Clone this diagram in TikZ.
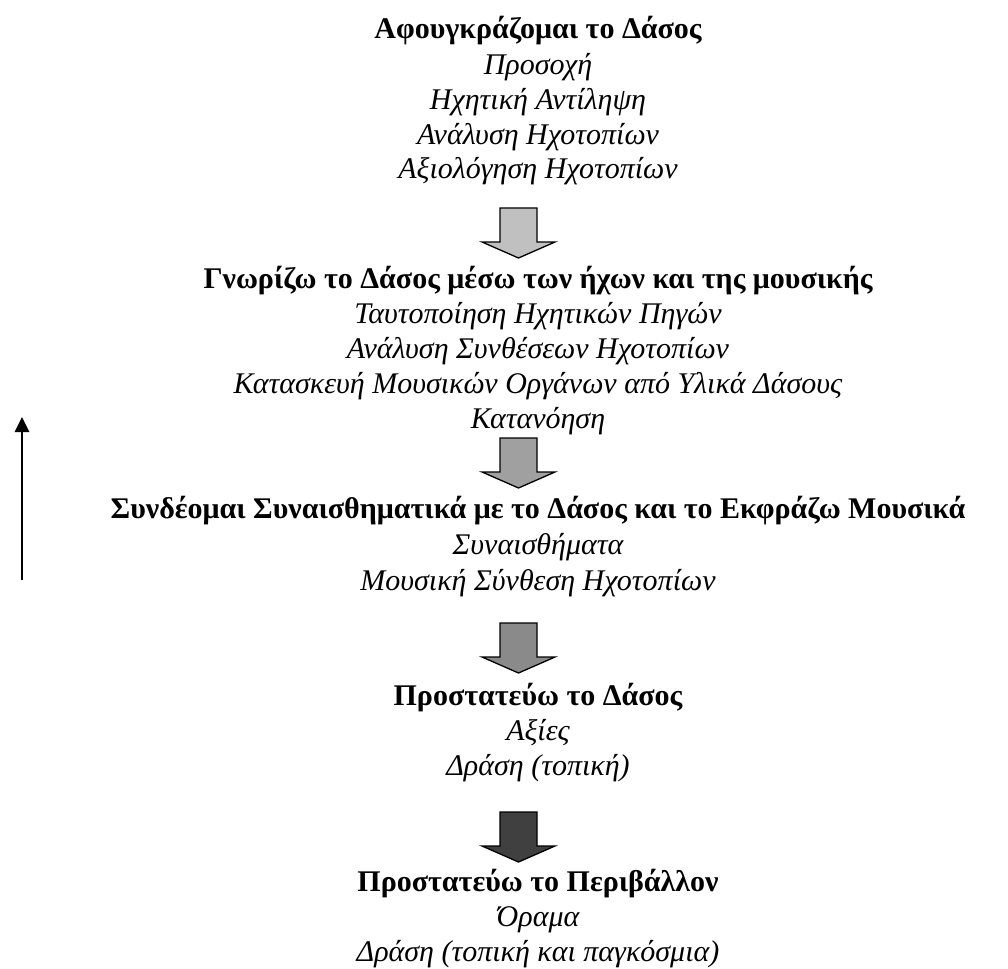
\documentclass[tikz,border=0pt]{standalone}
\usepackage{fontspec}
\setmainfont{Liberation Serif}
\usetikzlibrary{arrows.meta}
\tikzset{
  ttl/.style={anchor=base, inner sep=0pt, font=\fontsize{30}{34}\selectfont\bfseries},
  itm/.style={anchor=base, inner sep=0pt, font=\fontsize{30}{34}\selectfont\itshape},
  barrow/.style={draw=black, line width=1.3pt, line join=miter},
  uparrow/.style={line width=2.6pt, -{Triangle[width=14pt,length=15pt]}}
}
\definecolor{aone}{HTML}{C0C0C0}
\definecolor{atwo}{HTML}{A0A0A0}
\definecolor{athree}{HTML}{8A8A8A}
\definecolor{afour}{HTML}{404040}
\newcommand{\blockarrow}[2]{% #1 = top coordinate name, #2 = colour
  \begin{scope}[shift={(#1)}]
    \draw[barrow, fill=#2] (-18.5,0) -- (-18.5,34) -- (-36.5,34) -- (0,50) -- (36.5,34) -- (18.5,34) -- (18.5,0) -- cycle;
  \end{scope}
}
\begin{document}
\begin{tikzpicture}[x=1pt,y=-1pt]
\useasboundingbox (0,0) rectangle (1008,968);
\def\cx{538}
% block 1
\node[ttl] (t1) at (\cx,39) {Αφουγκράζομαι το Δάσος};
\node[itm] (l11) at (\cx,75) {Προσοχή};
\node[itm] (l12) at (\cx,110) {Ηχητική Αντίληψη};
\node[itm] (l13) at (\cx,145) {Ανάλυση Ηχοτοπίων};
\node[itm] (l14) at (\cx,179) {Αξιολόγηση Ηχοτοπίων};
% block 2
\node[ttl] (t2) at (\cx,288) {Γνωρίζω το Δάσος μέσω των ήχων και της μουσικής};
\node[itm] (l21) at (\cx,323) {Ταυτοποίηση Ηχητικών Πηγών};
\node[itm] (l22) at (\cx,358) {Ανάλυση Συνθέσεων Ηχοτοπίων};
\node[itm] (l23) at (\cx,393) {Κατασκευή Μουσικών Οργάνων από Υλικά Δάσους};
\node[itm] (l24) at (\cx,428) {Κατανόηση};
% block 3
\node[ttl] (t3) at (\cx,518) {Συνδέομαι Συναισθηματικά με το Δάσος και το Εκφράζω Μουσικά};
\node[itm] (l31) at (\cx,554) {Συναισθήματα};
\node[itm] (l32) at (\cx,590) {Μουσική Σύνθεση Ηχοτοπίων};
% block 4
\node[ttl] (t4) at (\cx,705) {Προστατεύω το Δάσος};
\node[itm] (l41) at (\cx,740) {Αξίες};
\node[itm] (l42) at (\cx,775) {Δράση (τοπική)};
% block 5
\node[ttl] (t5) at (\cx,891) {Προστατεύω το Περιβάλλον};
\node[itm] (l51) at (\cx,926) {Όραμα};
\node[itm] (l52) at (\cx,961) {Δράση (τοπική και παγκόσμια)};
% block arrows
\coordinate (a1) at (518.5,208);
\coordinate (a2) at (518.5,438);
\coordinate (a3) at (518.5,623);
\coordinate (a4) at (518.5,812);
\blockarrow{a1}{aone}
\blockarrow{a2}{atwo}
\blockarrow{a3}{athree}
\blockarrow{a4}{afour}
% left vertical arrow
\coordinate (ub) at (22,580);
\coordinate (ut) at (22,417);
\draw[uparrow] (ub) -- (ut);
\end{tikzpicture}
\end{document}
